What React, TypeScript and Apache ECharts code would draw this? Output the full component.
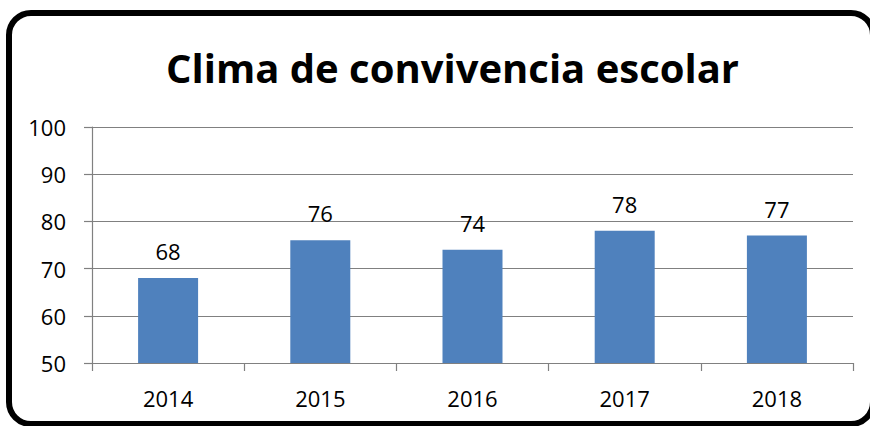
import React, { useEffect, useRef } from "react";
import * as echarts from "echarts";

const title = "Clima de convivencia escolar";
const years = ["2014", "2015", "2016", "2017", "2018"];
const values = [68, 76, 74, 78, 77];
const yMin = 50;
const yMax = 100;
const yStep = 10;

export default function App() {
  const ref = useRef<HTMLDivElement>(null);
  useEffect(() => {
    document.body.style.margin = "0";
    const chart = echarts.init(ref.current!, null, { renderer: "svg" });
    const font = "'Open Sans', 'Liberation Sans', sans-serif";
    chart.setOption({
      animation: false,
      backgroundColor: "#ffffff",
      title: {
        text: title,
        left: 161,
        top: 42,
        textStyle: { fontFamily: font, fontWeight: "bold", fontSize: 40, color: "#000" },
      },
      grid: { left: 92, right: 17, top: 127, bottom: 63 },
      xAxis: {
        type: "category",
        data: years,
        axisLine: { lineStyle: { color: "#808080", width: 1.2 } },
        axisTick: { show: true, length: 8, lineStyle: { color: "#808080", width: 1.2 } },
        axisLabel: { fontFamily: font, fontSize: 22, color: "#000", margin: 24 },
      },
      yAxis: {
        type: "value",
        min: yMin,
        max: yMax,
        interval: yStep,
        axisLine: { show: true, lineStyle: { color: "#808080", width: 1.2 } },
        axisTick: { show: true, length: 8, lineStyle: { color: "#808080", width: 1.2 } },
        splitLine: { lineStyle: { color: "#808080", width: 1.2 } },
        axisLabel: { fontFamily: font, fontSize: 22, color: "#000", margin: 26 },
      },
      series: [
        {
          type: "bar",
          data: values,
          barWidth: 60,
          itemStyle: { color: "#4F81BD" },
          label: {
            show: true,
            position: "top",
            distance: 16,
            fontFamily: font,
            fontSize: 22,
            color: "#000",
          },
        },
      ],
      graphic: [
        {
          type: "rect",
          shape: { x: 9, y: 13, width: 864, height: 411, r: 22 },
          style: { fill: "none", stroke: "#000", lineWidth: 6 },
          silent: true,
        },
      ],
    });
    return () => chart.dispose();
  }, []);
  return <div ref={ref} style={{ width: 870, height: 426 }} />;
}
